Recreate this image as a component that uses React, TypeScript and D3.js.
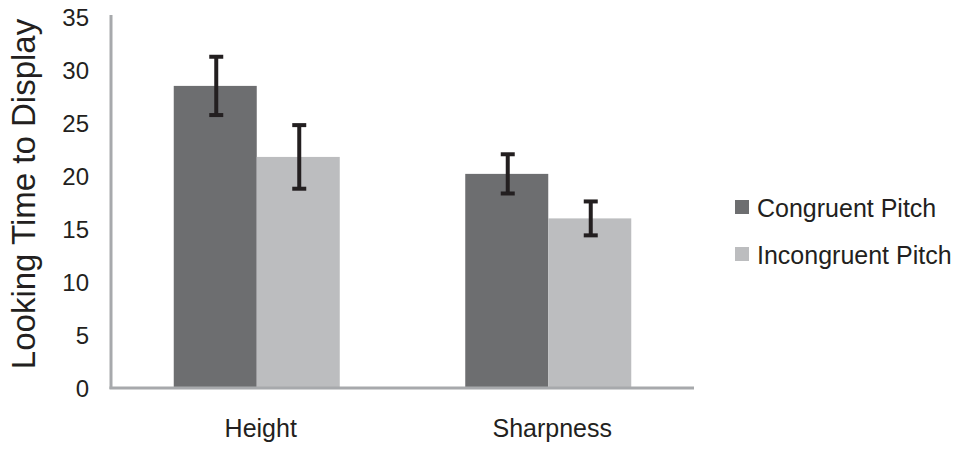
import React from "react";
import * as d3 from "d3";

const categories = ["Height", "Sharpness"];
const seriesNames = ["Congruent Pitch", "Incongruent Pitch"];
// means per series, in category order
const congruentMeans = [28.5, 20.2];
const incongruentMeans = [21.8, 16.0];
// half-length of the error bars
const congruentErr = [2.75, 1.85];
const incongruentErr = [3.0, 1.6];
const yTicks = [0, 5, 10, 15, 20, 25, 30, 35];

const colors = ["#6d6e70", "#bcbdbf"];
const axisColor = "#a7a9ac";
const font = "'Liberation Sans', Arial, Helvetica, sans-serif";

const App = () => {
  const width = 965;
  const height = 449;
  const left = 111;
  const right = 694;
  const bottom = 388;
  const top = 17;

  const series = [
    { name: seriesNames[0], means: congruentMeans, errs: congruentErr },
    { name: seriesNames[1], means: incongruentMeans, errs: incongruentErr },
  ];

  const x0 = d3.scaleBand<string>().domain(categories).range([left, right]).padding(0);
  const x1 = d3
    .scaleBand<string>()
    .domain(seriesNames)
    .range([0, x0.bandwidth()])
    .paddingInner(0)
    .paddingOuter(0.756);
  const y = d3.scaleLinear().domain([0, 35]).range([bottom, top]);
  const color = d3.scaleOrdinal<string, string>().domain(seriesNames).range(colors);

  return (
    <svg
      width={width}
      height={height}
      style={{ position: "absolute", left: 0, top: 0, background: "#fff" }}
      fontFamily={font}
    >
      {/* Bars */}
      {series.map((s) =>
        categories.map((c, i) => (
          <rect
            key={`${s.name}-${c}`}
            x={(x0(c) as number) + (x1(s.name) as number)}
            y={y(s.means[i])}
            width={x1.bandwidth()}
            height={bottom - y(s.means[i])}
            fill={color(s.name)}
          />
        ))
      )}

      {/* Axes */}
      <line x1={left} x2={left} y1={15} y2={bottom + 1} stroke={axisColor} strokeWidth={3} />
      <line x1={left - 1.5} x2={right} y1={bottom} y2={bottom} stroke={axisColor} strokeWidth={3} />

      {/* Error bars */}
      {series.map((s) =>
        categories.map((c, i) => {
          const cx = (x0(c) as number) + (x1(s.name) as number) + x1.bandwidth() / 2 + 1;
          const hi = y(s.means[i] + s.errs[i]);
          const lo = y(s.means[i] - s.errs[i]);
          return (
            <g key={`err-${s.name}-${c}`} stroke="#231f20">
              <line x1={cx} x2={cx} y1={hi} y2={lo} strokeWidth={4} />
              <line x1={cx - 7} x2={cx + 7} y1={hi} y2={hi} strokeWidth={4} />
              <line x1={cx - 7} x2={cx + 7} y1={lo} y2={lo} strokeWidth={4} />
            </g>
          );
        })
      )}

      {/* Y ticks */}
      {yTicks.map((t) => (
        <text
          key={`y-${t}`}
          x={89}
          y={y(t)}
          textAnchor="end"
          dominantBaseline="central"
          fontSize={24}
          fill="#231f20"
        >
          {t}
        </text>
      ))}

      {/* X labels */}
      {categories.map((c) => (
        <text
          key={`x-${c}`}
          x={(x0(c) as number) + x0.bandwidth() / 2 + 4}
          y={437}
          textAnchor="middle"
          fontSize={25}
          fill="#231f20"
        >
          {c}
        </text>
      ))}

      {/* Y title */}
      <text
        transform={`translate(35, ${194}) rotate(-90)`}
        textAnchor="middle"
        fontSize={33}
        fill="#231f20"
      >
        Looking Time to Display
      </text>

      {/* Legend */}
      {seriesNames.map((name, i) => (
        <g key={`leg-${name}`} transform={`translate(735, ${200 + i * 47})`}>
          <rect width={14} height={14} fill={color(name)} />
          <text x={22} y={16.5} fontSize={25} fill="#231f20">
            {name}
          </text>
        </g>
      ))}
    </svg>
  );
};

export default App;
